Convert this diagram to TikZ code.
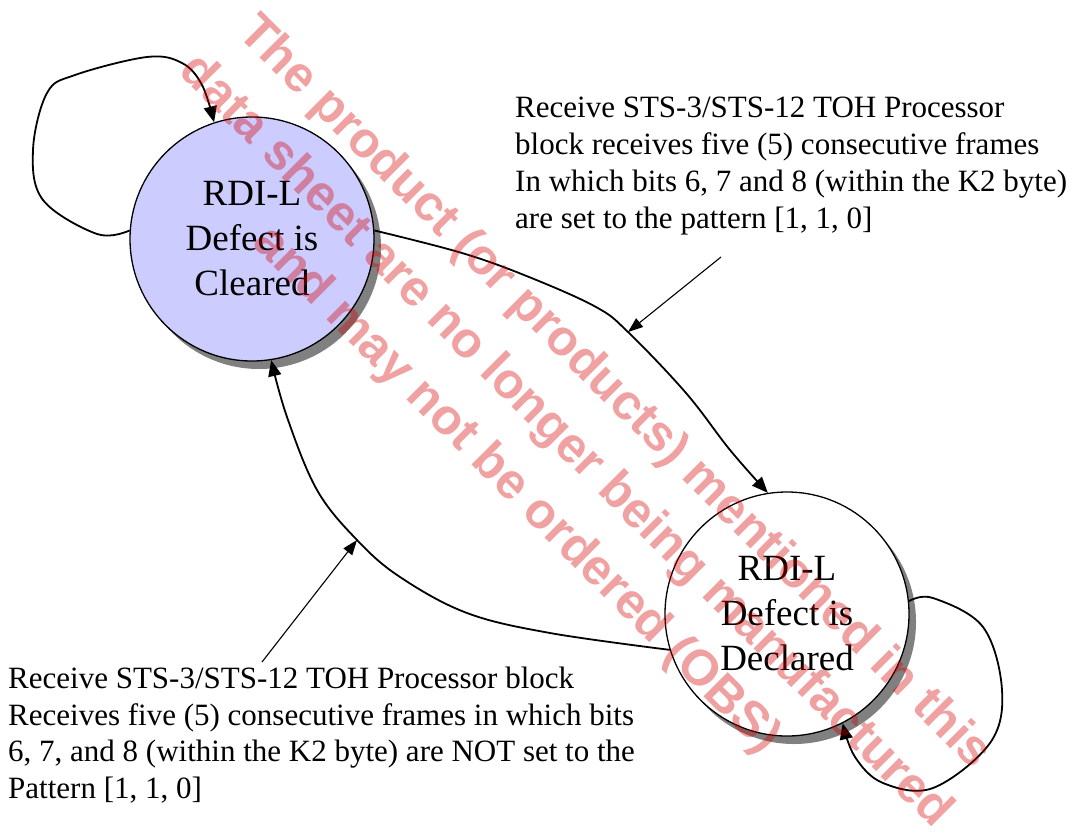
\documentclass[tikz,border=0pt]{standalone}
\usepackage{fontspec}
\setmainfont{Liberation Serif}
\newfontfamily\wmfont{Liberation Sans}
\usetikzlibrary{arrows.meta,shadows}

\definecolor{clearedfill}{RGB}{204,204,255}
\definecolor{wmred}{RGB}{214,0,0}

\tikzset{
  state/.style={circle, draw, line width=1.3pt, minimum size=244pt, inner sep=0pt,
    align=center, font=\fontsize{37}{45}\selectfont,
    drop shadow={shadow xshift=7pt, shadow yshift=-8pt, fill=black!50, opacity=1}},
  trans/.style={line width=1.8pt, -{Triangle[length=16pt,width=13pt]}},
  note/.style={line width=1.1pt, -{Triangle[length=15pt,width=11pt]}},
  notetext/.style={anchor=base west, align=left, inner sep=0pt},
}

\begin{document}
\begin{tikzpicture}[x=1pt,y=-1pt]
    \useasboundingbox (0,0) rectangle (1075,835);
    % Zustaende:
    \node[state, fill=clearedfill] (clr) at (252,239) {RDI-L\\Defect is\\Cleared};
    \node[state, fill=white] (dcl) at (787,614) {RDI-L\\Defect is\\Declared};

    % Uebergaenge:
    \coordinate (ta) at (628,332);
    \coordinate (tb) at (357,540);
    \draw[trans] plot[smooth, tension=0.6] coordinates
        {(clr.4) (462,253) (529,277) (596,307) (ta) (686,393) (730,450) (dcl.99)};
    \draw[trans] plot[smooth, tension=0.6] coordinates
        {(dcl.197) (550,633) (467,613) (400,577) (tb) (317,490) (287,417) (clr.279)};
    \draw[trans] plot[smooth, tension=0.6] coordinates
        {(clr.176) (97,234) (43,200) (33,150) (47,93) (75,75) (147,57) (182,63) (202,85) (clr.108)};
    \draw[trans] plot[smooth, tension=0.6] coordinates
        {(dcl.6) (933,598) (983,627) (1002,690) (990,743) (933,788) (883,783) (855,757) (dcl.297)};

    % Beschriftungen (Anker = letzte Zeile):
    \node[notetext, font=\fontsize{31}{37}\selectfont] (ra) at (515,228)
        {Receive STS-3/STS-12 TOH Processor\\
         block receives five (5) consecutive frames\\
         In which bits 6, 7 and 8 (within the K2 byte)\\
         are set to the pattern [1, 1, 0]};
    \node[notetext, font=\fontsize{31}{36.5}\selectfont] (rb) at (8,798)
        {Receive STS-3/STS-12 TOH Processor block\\
         Receives five (5) consecutive frames in which bits\\
         6, 7, and 8 (within the K2 byte) are NOT set to the\\
         Pattern [1, 1, 0]};
    \coordinate (na) at (721,257);
    \coordinate (nb) at (262,662);
    \draw[note] (na) -- (ta);
    \draw[note] (nb) -- (tb);

    % Wasserzeichen:
    \node[rotate=-45, align=center, text=wmred, text opacity=0.37,
        font=\wmfont\bfseries\fontsize{50}{69}\selectfont] (wm) at (565,442)
        {The product (or products) mentioned in this\\
         data sheet are no longer being manufactured\\
         and may not be ordered (OBS)};
\end{tikzpicture}
\end{document}
